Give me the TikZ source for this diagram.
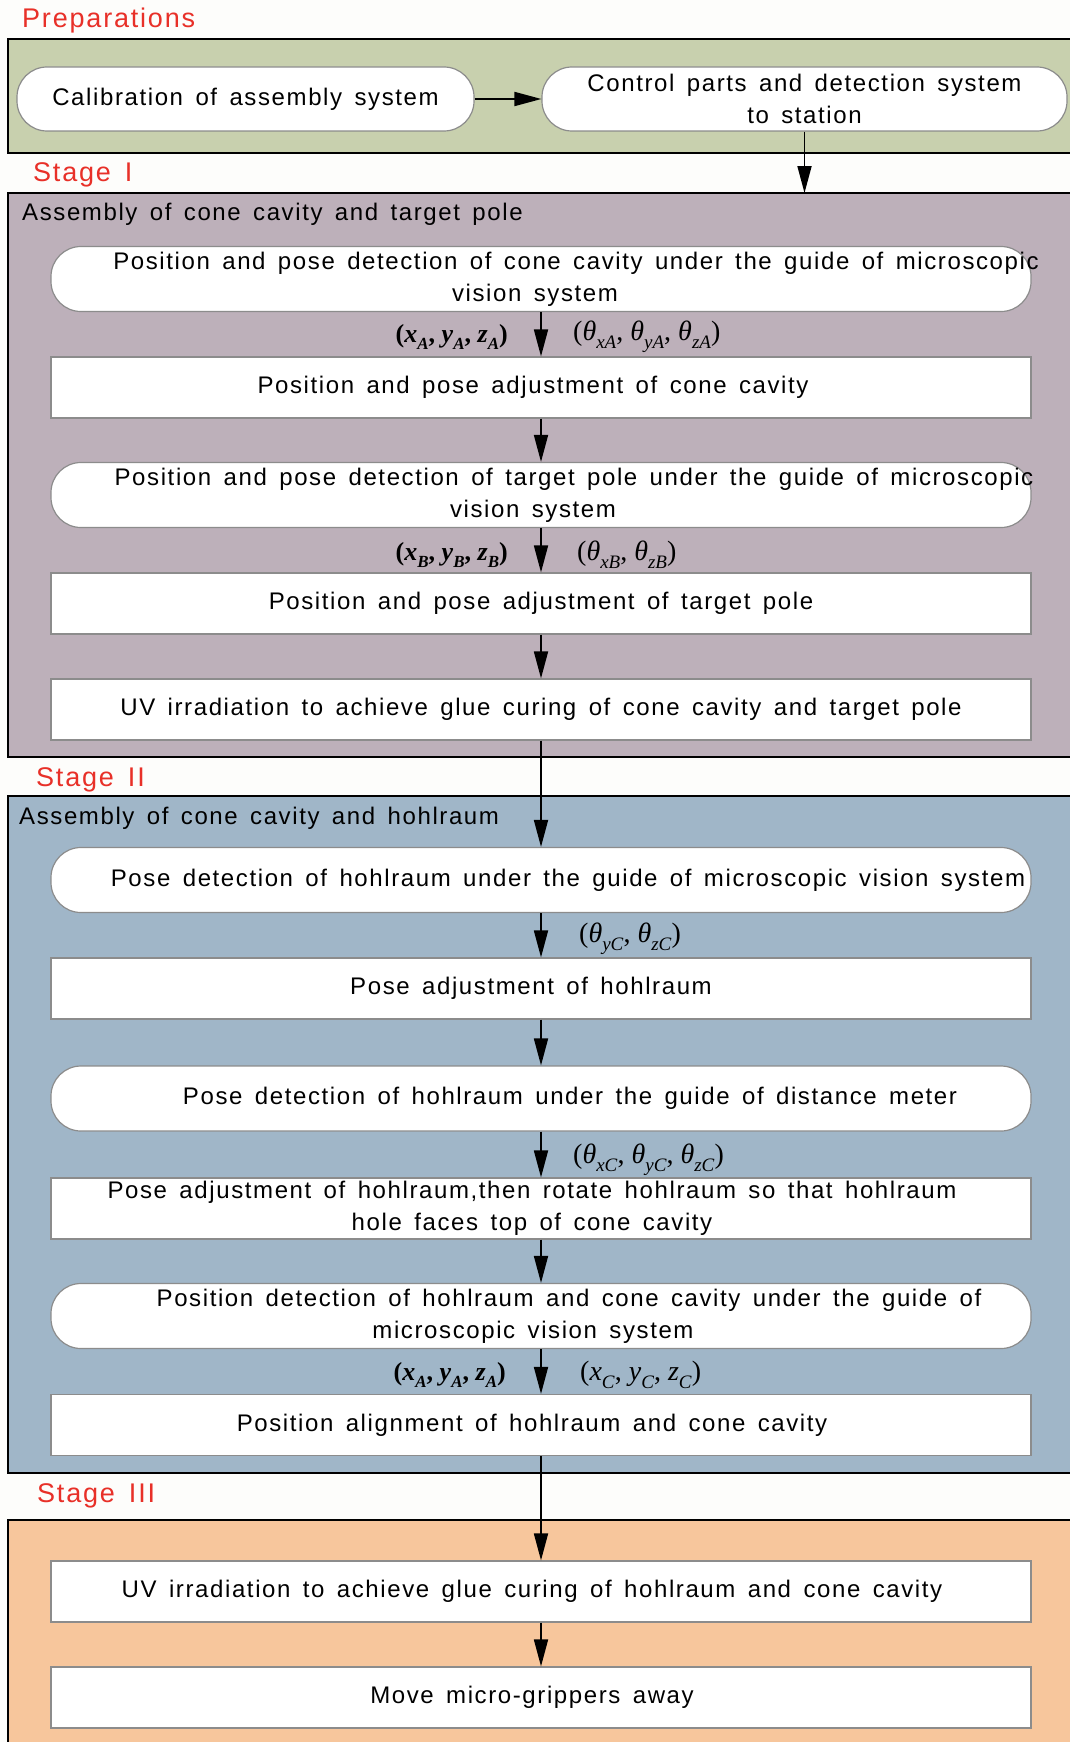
\documentclass[tikz,border=0pt]{standalone}
\usepackage{fontspec}
\setmainfont[LetterSpace=6.7,WordSpace=1.5]{Liberation Sans}
\newfontfamily\serif{Liberation Serif}
\usetikzlibrary{arrows.meta}
\definecolor{bgc}{RGB}{253,253,251}
\definecolor{prepc}{RGB}{200,208,174}
\definecolor{sonec}{RGB}{189,176,186}
\definecolor{stwoc}{RGB}{160,182,200}
\definecolor{sthreec}{RGB}{247,198,156}
\definecolor{redlab}{RGB}{232,48,40}
\definecolor{boxline}{RGB}{140,140,140}
\newcommand\bodyfont{\fontsize{24}{32}\selectfont}
\newcommand\sh[2]{\makebox[0pt]{\hspace*{#1}#2}}
\newcommand\vb[2]{\textbf{\textit{#1}}\raisebox{-0.28em}{\fontsize{17}{17}\selectfont\textbf{\textit{#2}}}}
\newcommand\vt[1]{\textit{θ}\raisebox{-0.28em}{\fontsize{19}{19}\selectfont\textit{#1}}}
\newcommand\vc[1]{\textit{#1}\raisebox{-0.28em}{\fontsize{19}{19}\selectfont\textit{C}}}
\begin{document}
\begin{tikzpicture}[x=1pt,y=-1pt,
  panel/.style={draw=black,line width=2.2pt},
  rbox/.style={draw=boxline,fill=white,line width=1.2pt,rounded corners=30pt,
    minimum width=980pt,minimum height=65pt,align=center,inner sep=0pt,font=\bodyfont},
  sbox/.style={draw=boxline,fill=white,line width=1.2pt,
    minimum width=980pt,minimum height=61pt,align=center,inner sep=0pt,font=\bodyfont},
  stagelab/.style={text=redlab,font=\fontsize{27}{30}\selectfont,anchor=west,inner sep=0pt},
  ptitle/.style={font=\bodyfont,anchor=west,inner sep=0pt},
  arr/.style={-{Triangle[length=27pt,width=14pt]},line width=1.8pt},
  lab/.style={font=\serif\fontsize{26}{28}\selectfont,inner sep=0pt},
  tlab/.style={font=\serif\fontsize{28}{30}\selectfont,inner sep=0pt}]
\fill[bgc] (0,0) rectangle (1070,1742);
\useasboundingbox (0,0) rectangle (1070,1742);
% panels
\draw[panel,fill=prepc] (8,39) rectangle (1090,153);
\draw[panel,fill=sonec] (8,193) rectangle (1090,757);
\draw[panel,fill=stwoc] (8,796) rectangle (1090,1473);
\draw[panel,fill=sthreec] (8,1520) rectangle (1090,1770);
% labels
\node[stagelab] (lprep) at (22,21) {Preparations};
\node[stagelab] (lone) at (33,175) {Stage I};
\node[stagelab] (ltwo) at (36,780) {Stage II};
\node[stagelab] (lthree) at (37,1496) {Stage III};
\node[ptitle] (tone) at (22,214) {Assembly of cone cavity and target pole};
\node[ptitle] (ttwo) at (19,818) {Assembly of cone cavity and hohlraum};
% preparations
\node[rbox,minimum width=457pt,minimum height=64pt] (cal) at (245.5,99) {Calibration of assembly system};
\node[rbox,minimum width=525pt,minimum height=64pt] (ctl) at (804.5,99) {Control parts and detection system\\to station};
\coordinate (sonetop) at (804.5,193);
% stage I
\node[rbox] (n1) at (541,279) {\sh{70pt}{Position and pose detection of cone cavity under the guide of microscopic}\\\sh{-12pt}{vision system}};
\node[sbox] (n2) at (541,387.5) {\sh{-16pt}{Position and pose adjustment of cone cavity}};
\node[rbox] (n3) at (541,495) {\sh{66pt}{Position and pose detection of target pole under the guide of microscopic}\\\sh{-16pt}{vision system}};
\node[sbox] (n4) at (541,603.5) {Position and pose adjustment of target pole};
\node[sbox] (n5) at (541,709.5) {UV irradiation to achieve glue curing of cone cavity and target pole};
% stage II
\node[rbox] (n6) at (541,880) {\sh{54pt}{Pose detection of hohlraum under the guide of microscopic vision system}};
\node[sbox] (n7) at (541,988.5) {\sh{-20pt}{Pose adjustment of hohlraum}};
\node[rbox] (n8) at (541,1098.5) {\sh{58pt}{Pose detection of hohlraum under the guide of distance meter}};
\node[sbox] (n9) at (541,1208.5) {\sh{-18pt}{Pose adjustment of hohlraum,then rotate hohlraum so that hohlraum}\\\sh{-18pt}{hole faces top of cone cavity}};
\node[rbox] (n10) at (541,1316) {\sh{56pt}{Position detection of hohlraum and cone cavity under the guide of}\\\sh{-16pt}{microscopic vision system}};
\node[sbox] (n11) at (541,1425) {\sh{-18pt}{Position alignment of hohlraum and cone cavity}};
% stage III
\node[sbox] (n12) at (541,1591.5) {\sh{-18pt}{UV irradiation to achieve glue curing of hohlraum and cone cavity}};
\node[sbox] (n13) at (541,1697.5) {\sh{-18pt}{Move micro-grippers away}};
% arrow labels
\node[lab,anchor=east] (la1) at (508,337) {\bfseries(\vb{x}{A}, \vb{y}{A}, \vb{z}{A})};
\node[tlab,anchor=west] (lb1) at (573,337) {(\vt{xA}, \vt{yA}, \vt{zA})};
\node[lab,anchor=east] (la2) at (508,555) {\bfseries(\vb{x}{B}, \vb{y}{B}, \vb{z}{B})};
\node[tlab,anchor=west] (lb2) at (577,555) {(\vt{xB}, \vt{zB})};
\node[tlab,anchor=west] (lb3) at (579,939) {(\vt{yC}, \vt{zC})};
\node[tlab,anchor=west] (lb4) at (573,1160) {(\vt{xC}, \vt{yC}, \vt{zC})};
\node[lab,anchor=east] (la5) at (506,1375) {\bfseries(\vb{x}{A}, \vb{y}{A}, \vb{z}{A})};
\node[tlab,anchor=west] (lb5) at (580,1375) {(\vc{x}, \vc{y}, \vc{z})};
% connectors
\draw[arr] (cal.east) -- (ctl.west);
\draw[arr] (ctl.south) -- (sonetop);
\draw[arr] (n1.south) -- (n2.north);
\draw[arr] (n2.south) -- (n3.north);
\draw[arr] (n3.south) -- (n4.north);
\draw[arr] (n4.south) -- (n5.north);
\draw[arr] (n5.south) -- (n6.north);
\draw[arr] (n6.south) -- (n7.north);
\draw[arr] (n7.south) -- (n8.north);
\draw[arr] (n8.south) -- (n9.north);
\draw[arr] (n9.south) -- (n10.north);
\draw[arr] (n10.south) -- (n11.north);
\draw[arr] (n11.south) -- (n12.north);
\draw[arr] (n12.south) -- (n13.north);
\end{tikzpicture}
\end{document}
